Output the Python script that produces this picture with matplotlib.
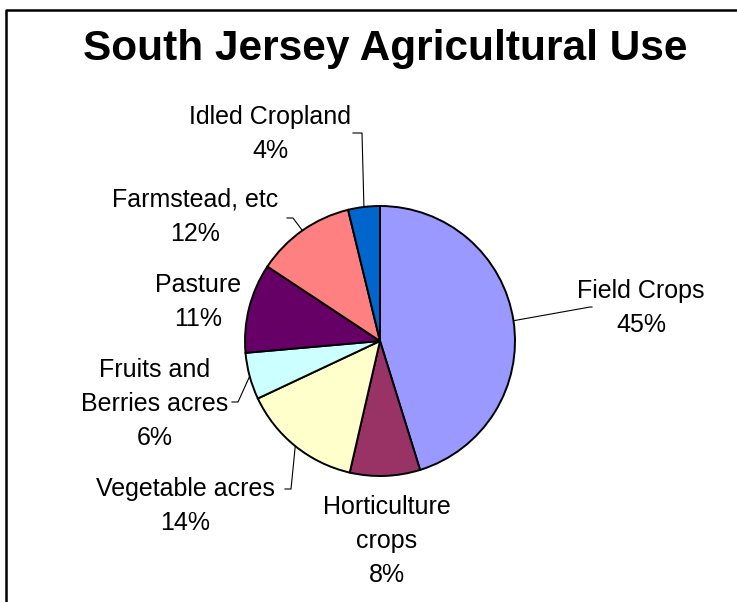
import numpy as np
import matplotlib
matplotlib.use("Agg")
from matplotlib import pyplot as plt
from matplotlib.lines import Line2D

# data (clockwise from 12 o'clock)
categories = [
    "Field Crops",
    "Horticulture\ncrops",
    "Vegetable acres",
    "Fruits and\nBerries acres",
    "Pasture",
    "Farmstead, etc",
    "Idled Cropland",
]
shares = [45.2, 8.4, 14.4, 5.6, 10.7, 11.9, 3.8]
colors = ["#9999FF", "#993366", "#FFFFCC", "#CCFFFF", "#660066", "#FF8080", "#0066CC"]

# layout, in pixels from top-left of the 737x602 canvas
W, H = 737, 602
CX, CY, R = 380, 341, 135
label_pos = [(641, 308), (387, 541), (185, 506), (155, 404), (198, 302), (195, 217), (270, 134)]
# leader elbows: points from the label side towards the wedge (None = no leader)
leaders = [
    [(592, 307), (590, 307)],
    None,
    [(285, 489), (291, 489)],
    [(232, 402), (238, 402)],
    None,
    [(287, 218), (293, 218)],
    [(353, 133), (362, 133)],
]

plt.rcParams["font.family"] = ["Liberation Sans", "DejaVu Sans"]

fig = plt.figure(figsize=(W / 100, H / 100), dpi=100)
ax = fig.add_axes([0, 0, 1, 1])

wedges, _ = ax.pie(
    shares,
    colors=colors,
    startangle=90,
    counterclock=False,
    center=(CX, H - CY),
    radius=R,
    wedgeprops=dict(edgecolor="black", linewidth=1.4),
    frame=True,
)
ax.set_xlim(0, W)
ax.set_ylim(0, H)
ax.set_aspect("equal")
ax.axis("off")

total = sum(shares)
for w, name, val, (lx, ly), lead in zip(wedges, categories, shares, label_pos, leaders):
    pct = 100.0 * val / total
    ax.text(lx, H - ly, f"{name}\n{pct:.0f}%", ha="center", va="center",
            multialignment="center", fontsize=18, linespacing=1.55)
    if lead is not None:
        mid = np.deg2rad((w.theta1 + w.theta2) / 2)
        ex, ey = CX + R * np.cos(mid), (H - CY) + R * np.sin(mid)
        xs = [p[0] for p in lead] + [ex]
        ys = [H - p[1] for p in lead] + [ey]
        ax.plot(xs, ys, color="black", linewidth=0.8, zorder=0.5)

ax.text(385, H - 60, "South Jersey Agricultural Use", ha="center", va="baseline",
        fontsize=30.5, fontweight="bold")

# chart-area border (cropped on the right and bottom in the reference)
fig.add_artist(Line2D([6 / W, 6 / W, 1.0], [0.0, 1 - 10 / H, 1 - 10 / H],
                      color="black", linewidth=1.8, transform=fig.transFigure))

fig.savefig("out.png", dpi=100)
